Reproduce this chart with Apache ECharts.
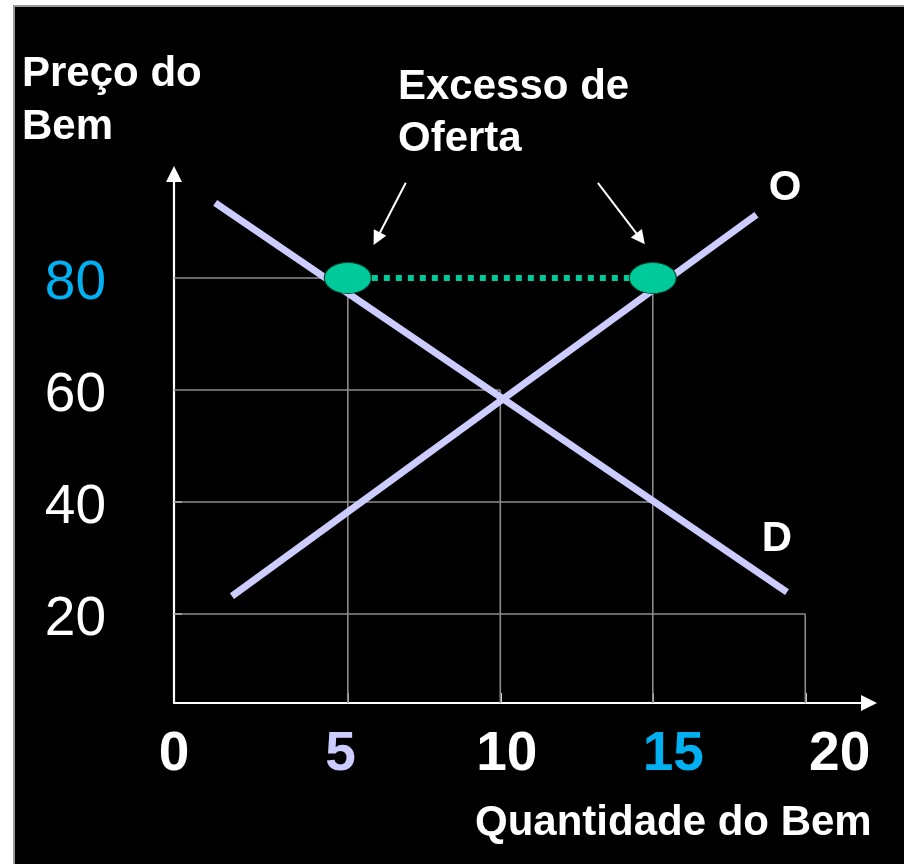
<!DOCTYPE html>
<html>
<head>
<meta charset="utf-8">
<script src="https://cdn.jsdelivr.net/npm/echarts@6/dist/echarts.min.js"></script>
<style>
html, body { margin: 0; padding: 0; background: #ffffff; }
#chart { width: 904px; height: 864px; }
</style>
</head>
<body>
<div id="chart"></div>
<script>
// ---- data ----
const priceTicks = [20, 40, 60, 80];
const quantityTicks = [0, 5, 10, 15, 20];
const demandLine = [[0.65, 93.4], [19.4, 23.9]];
const supplyLine = [[1.2, 23.2], [18.4, 91.3]];
const excessPoints = [[5, 80], [15, 80]];
const horizontalGuides = [[5, 80], [10, 60], [15, 40], [20, 20]];
const verticalGuides = [[5, 80], [10, 60], [15, 80], [20, 20]];
const pointerArrows = [[[6.9, 97], [5.95, 87]], [[13.2, 97], [14.6, 87]]];
const highlightedQuantity = { 5: '#ccccff', 15: '#00b0f0' };
const highlightedPrice = { 80: '#00b0f0' };

// ---- axis ranges ----
const Q_MIN = -0.7, Q_MAX = 22.09;
const P_MIN = 4.1, P_MAX = 98.57;
const LABEL_MIN = 0, LABEL_MAX = 20.88;

const FONT = "'Liberation Sans', Arial, Helvetica, sans-serif";
const TEAL = '#00c99a';
const LAVENDER = '#ccccff';
const GUIDE = '#8c8c8c';

const chart = echarts.init(document.getElementById('chart'), null, { renderer: 'canvas' });

const guideSeries = [];
horizontalGuides.forEach(function (p) {
  guideSeries.push({
    type: 'line', data: [[Q_MIN, p[1]], [p[0], p[1]]], symbol: 'none', silent: true,
    lineStyle: { color: GUIDE, width: 1.6 }, z: 1, animation: false
  });
});
verticalGuides.forEach(function (p) {
  guideSeries.push({
    type: 'line', data: [[p[0], p[1]], [p[0], P_MIN]], symbol: 'none', silent: true,
    lineStyle: { color: GUIDE, width: 1.6 }, z: 1, animation: false
  });
});

const option = {
  backgroundColor: '#000000',
  animation: false,
  grid: { left: 174, top: 174, right: 35, bottom: 161, containLabel: false, outerBoundsMode: 'none' },
  xAxis: [
    {
      type: 'value', min: Q_MIN, max: Q_MAX, position: 'bottom',
      axisLine: { show: true, onZero: false, lineStyle: { color: '#ffffff', width: 2.2 },
        symbol: ['none', 'triangle'], symbolSize: [16, 16] },
      axisTick: { show: true, inside: true, length: 10, customValues: [5, 10, 15, 20],
        lineStyle: { color: '#ffffff', width: 1.6 } },
      axisLabel: { show: false },
      splitLine: { show: false }
    },
    {
      type: 'value', min: LABEL_MIN, max: LABEL_MAX, position: 'bottom',
      axisLine: { show: false, onZero: false },
      axisTick: { show: false },
      splitLine: { show: false },
      axisLabel: {
        show: true, customValues: quantityTicks, margin: 52, verticalAlign: 'middle',
        fontFamily: FONT, fontSize: 55, fontWeight: 'bold',
        color: function (v) { return highlightedQuantity[Number(v)] || '#ffffff'; }
      }
    }
  ],
  yAxis: {
    type: 'value', min: P_MIN, max: P_MAX,
    axisLine: { show: true, onZero: false, lineStyle: { color: '#ffffff', width: 2.2 },
      symbol: ['none', 'triangle'], symbolSize: [16, 16] },
    axisTick: { show: true, inside: true, length: 8, customValues: [20, 40],
      lineStyle: { color: '#ffffff', width: 1.6 } },
    axisLabel: {
      show: true, customValues: priceTicks, margin: 68, verticalAlign: 'top', lineHeight: 12,
      fontFamily: FONT, fontSize: 55, fontWeight: 'normal',
      color: function (v) { return highlightedPrice[Number(v)] || '#ffffff'; }
    },
    splitLine: { show: false }
  },
  series: guideSeries.concat([
    {
      name: 'D', type: 'line', data: demandLine, symbol: 'none', silent: true, z: 3,
      lineStyle: { color: LAVENDER, width: 7, cap: 'butt' }
    },
    {
      name: 'O', type: 'line', data: supplyLine, symbol: 'none', silent: true, z: 3,
      lineStyle: { color: LAVENDER, width: 7, cap: 'butt' }
    },
    {
      name: 'excess', type: 'line', data: excessPoints, symbol: 'none', silent: true, z: 4,
      lineStyle: { color: TEAL, width: 6, type: [6, 6], cap: 'butt' }
    },
    {
      name: 'points', type: 'scatter', data: excessPoints, symbol: 'circle', symbolSize: [47, 31], z: 5,
      itemStyle: { color: TEAL, borderColor: '#004433', borderWidth: 1, opacity: 1 }, silent: true
    },
    {
      name: 'pointers', type: 'lines', coordinateSystem: 'cartesian2d', z: 6, silent: true,
      symbol: ['none', 'triangle'], symbolSize: 14,
      lineStyle: { color: '#ffffff', width: 2, opacity: 1, curveness: 0 },
      data: pointerArrows.map(function (c) { return { coords: c }; })
    }
  ]),
  graphic: [
    { type: 'rect', silent: true, shape: { x: 0, y: 0, width: 13, height: 864 }, style: { fill: '#ffffff' } },
    { type: 'rect', silent: true, shape: { x: 0, y: 0, width: 904, height: 5 }, style: { fill: '#ffffff' } },
    { type: 'rect', silent: true, shape: { x: 13, y: 5, width: 2, height: 859 }, style: { fill: '#9a9a9a' } },
    { type: 'rect', silent: true, shape: { x: 13, y: 5, width: 891, height: 2 }, style: { fill: '#9a9a9a' } },
    { type: 'text', silent: true, x: 22, y: 48,
      style: { text: 'Preço do\nBem', fill: '#ffffff', fontFamily: FONT, fontSize: 42, fontWeight: 'bold',
        lineHeight: 53, align: 'left', verticalAlign: 'top' } },
    { type: 'text', silent: true, x: 398, y: 61,
      style: { text: 'Excesso de\nOferta', fill: '#ffffff', fontFamily: FONT, fontSize: 42, fontWeight: 'bold',
        lineHeight: 52, align: 'left', verticalAlign: 'top' } },
    { type: 'text', silent: true, x: 785, y: 188,
      style: { text: 'O', fill: '#ffffff', fontFamily: FONT, fontSize: 42, fontWeight: 'bold',
        align: 'center', verticalAlign: 'middle' } },
    { type: 'text', silent: true, x: 777, y: 539,
      style: { text: 'D', fill: '#ffffff', fontFamily: FONT, fontSize: 42, fontWeight: 'bold',
        align: 'center', verticalAlign: 'middle' } },
    { type: 'text', silent: true, x: 475, y: 823,
      style: { text: 'Quantidade do Bem', fill: '#ffffff', fontFamily: FONT, fontSize: 42, fontWeight: 'bold',
        align: 'left', verticalAlign: 'middle' } }
  ]
};

chart.setOption(option);
</script>
</body>
</html>
